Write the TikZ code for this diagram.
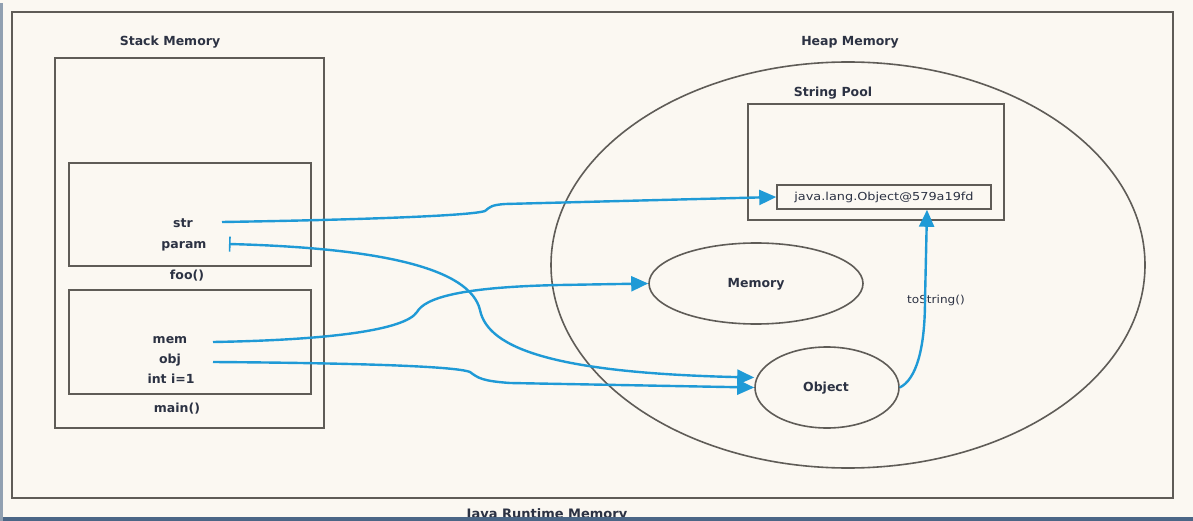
\documentclass[tikz,border=0pt]{standalone}
\usepackage{fontspec}
\setmainfont{DejaVu Sans}
\usepackage{graphicx}
\usetikzlibrary{shapes.geometric,arrows.meta}
\definecolor{bg}{HTML}{FBF8F2}
\definecolor{framec}{HTML}{5F5C57}
\definecolor{lbl}{HTML}{2C3243}
\definecolor{arr}{HTML}{1F9AD6}
\definecolor{bandc}{HTML}{4B6686}
\begin{document}
\begin{tikzpicture}[x=1pt,y=-1pt,
  box/.style={draw=framec,line width=1.8pt,rectangle,inner sep=0pt},
  ell/.style={draw=framec,line width=1.6pt,ellipse,inner sep=0pt},
  lab/.style={font=\fontsize{12.5}{14}\selectfont\bfseries,text=lbl,inner sep=0pt},
  smalllab/.style={font=\fontsize{11}{13}\selectfont,text=lbl,inner sep=0pt},
  link/.style={draw=arr,line width=2.4pt,-{Triangle[length=17pt,width=15pt]}}]
\fill[bg] (0,0) rectangle (1193,521);
\useasboundingbox (0,0) rectangle (1193,521);
% frames
\node[box,minimum width=1161pt,minimum height=486pt] (runtime) at (592.5,255) {};
\node[box,minimum width=269pt,minimum height=370pt] (stack) at (189.5,243) {};
\node[box,minimum width=242pt,minimum height=103pt] (foo) at (190,214.5) {};
\node[box,minimum width=242pt,minimum height=104pt] (mainb) at (190,342) {};
\node[ell,minimum width=594pt,minimum height=406pt] (heap) at (848,265) {};
\node[box,minimum width=256pt,minimum height=116pt] (pool) at (876,162) {};
\node[box,line width=1.6pt,minimum width=214pt,minimum height=24pt] (poolobj) at (884,197) {};
\node[ell,minimum width=214pt,minimum height=81pt] (memE) at (756,283.5) {};
\node[ell,minimum width=144pt,minimum height=81pt] (objE) at (827,387.5) {};
% labels
\node[lab] (stacklbl) at (170,42) {Stack Memory};
\node[lab] (heaplbl) at (850,42) {Heap Memory};
\node[lab] (poollbl) at (833,93) {String Pool};
\node[lab] (foolbl) at (187,276) {foo()};
\node[lab] (mainlbl) at (177,409) {main()};
\node[lab] (str) at (183,223) {str};
\node[lab] (param) at (184,246) {param};
\node[lab] (mem) at (170,340) {mem};
\node[lab] (obj) at (170,360) {obj};
\node[lab] (inti) at (171,379) {int i=1};
\node[lab] (memlbl) at (756,284) {Memory};
\node[lab] (objlbl) at (826,388) {Object};
\node[smalllab] (pooltxt) at (884,197) {\scalebox{1.17}[1]{java.lang.Object@579a19fd}};
\node[smalllab] (tostr) at (936,300) {\scalebox{1.1}[1]{toString()}};
% connector start points
\coordinate (strS) at (222,222);
\coordinate (paramS) at (229,244);
\coordinate (memS) at (213,342);
\coordinate (objS) at (213,362);
% connectors
\draw[link] (strS) .. controls (350,220) and (470,216) .. (485,211)
  .. controls (490,207) and (491,205) .. (505,204) -- (poolobj.west);
\draw[link,{Bar[width=15pt,line width=1.6pt]}-{Triangle[length=17pt,width=15pt]}] (paramS)
  .. controls (380,248) and (470,268) .. (480,310)
  .. controls (488,350) and (560,373) .. ([yshift=10pt]objE.west);
\draw[link] (memS) .. controls (330,340) and (405,330) .. (417,312)
  .. controls (425,298) and (460,287) .. (560,285) -- (memE.west);
\draw[link] (objS) .. controls (350,363) and (455,366) .. (470,372)
  .. controls (478,378) and (482,381) .. (510,383) -- (objE.west);
\draw[link] (objE.east) .. controls +(16,-8) and (925,350) .. (925,300)
  -- ([xshift=43pt]poolobj.south);
% bottom caption and screen edges
\node[font=\fontsize{13}{15}\selectfont\bfseries,text=lbl,inner sep=0pt] (jrm) at (547,515) {Java Runtime Memory};
\fill[bandc] (0,517) rectangle (1193,521);
\fill[bandc!60!bg] (0,3) rectangle (3,521);
\end{tikzpicture}
\end{document}
